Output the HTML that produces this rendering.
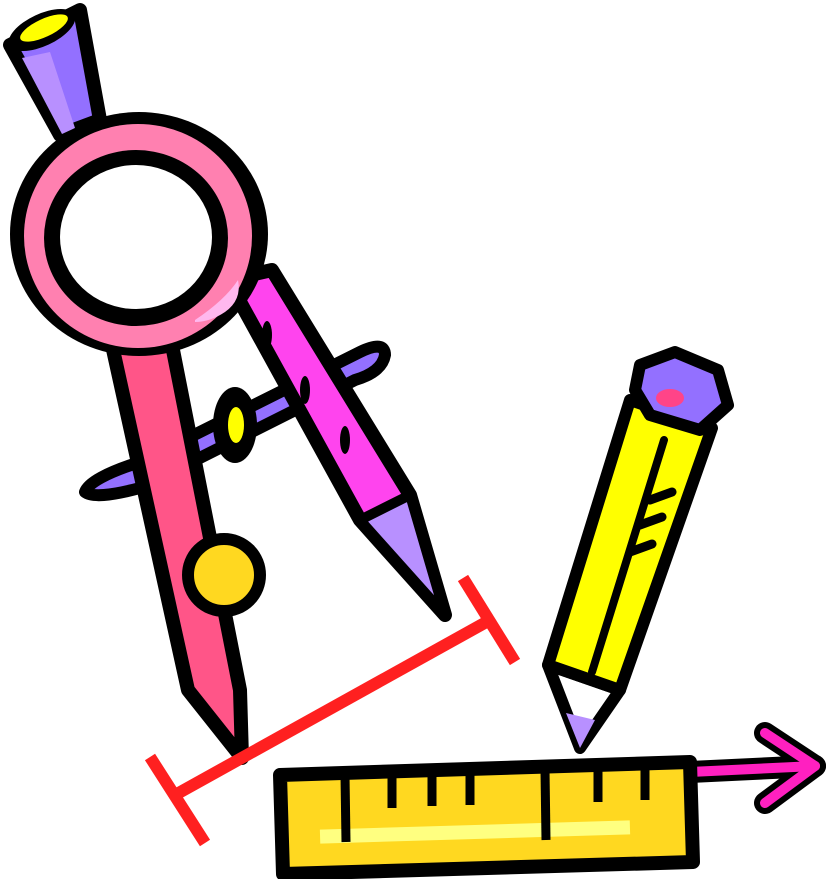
<!DOCTYPE html><html><head><style>html,body{margin:0;padding:0;background:#fff}svg{display:block}</style></head><body>
<svg width="827" height="879" viewBox="0 0 827 879" xmlns="http://www.w3.org/2000/svg" stroke-linejoin="round" stroke-linecap="round">
<!-- crossbar -->
<path d="M85,492 Q90,478 140,462 L360,352 Q385,340 385,355 Q382,372 355,380 L140,488 Q95,500 85,492Z" fill="#9370ff" stroke="#000" stroke-width="12"/>
<!-- right leg -->
<polygon points="228,280 272,270 410,495 445,615 360,520" fill="#ff44ee" stroke="#000" stroke-width="14"/>
<polygon points="360,520 410,495 445,615" fill="#b890ff" stroke="#000" stroke-width="10"/>
<ellipse cx="267" cy="335" rx="5" ry="14" fill="#000"/><ellipse cx="305" cy="390" rx="5" ry="14" fill="#000"/><ellipse cx="345" cy="440" rx="5" ry="14" fill="#000"/>
<!-- yellow oval on bar -->
<ellipse cx="235" cy="425" rx="22" ry="38" fill="#000"/><ellipse cx="236" cy="425" rx="8" ry="18" fill="#ff0"/>
<!-- left leg -->
<polygon points="112,345 172,345 240,690 242,758 188,690" fill="#ff5588" stroke="#000" stroke-width="14"/>
<!-- yellow knob -->
<circle cx="224" cy="575" r="36" fill="#ffd820" stroke="#000" stroke-width="12"/>
<!-- top handle -->
<polygon points="10,45 80,10 100,120 60,135" fill="#9370ff" stroke="#000" stroke-width="14"/>
<polygon points="22,58 50,52 75,128 62,134" fill="#b890ff"/>
<ellipse cx="42" cy="30" rx="36" ry="16" transform="rotate(-25 42 30)" fill="#000"/>
<ellipse cx="44" cy="28" rx="26" ry="9" transform="rotate(-25 44 28)" fill="#ff0"/>
<!-- ring -->
<ellipse cx="139" cy="234" rx="129" ry="122" fill="#000"/>
<ellipse cx="138" cy="236" rx="114" ry="112" fill="#ff80b0"/>
<ellipse cx="136" cy="238" rx="92" ry="88" fill="#000"/>
<ellipse cx="136" cy="237" rx="76" ry="72" fill="#fff"/>
<path d="M195,320 Q225,300 238,280 Q242,300 225,312 Q210,322 195,322Z" fill="#ffb8ee"/>
<!-- red dimension -->
<g stroke="#ff2020" stroke-width="12" stroke-linecap="butt"><line x1="175" y1="795" x2="490" y2="620"/><line x1="150" y1="757" x2="205" y2="843"/><line x1="463" y1="578" x2="515" y2="662"/></g>
<!-- pencil -->
<polygon points="548,665 580,748 620,690" fill="#fff" stroke="#000" stroke-width="12"/>
<polygon points="566,713 580,748 595,720" fill="#b890ff"/>
<polygon points="548,665 630,400 712,428 620,690" fill="#ffff00" stroke="#000" stroke-width="12"/>
<line x1="592" y1="672" x2="664" y2="440" stroke="#000" stroke-width="8"/>
<path d="M650,500 l22,-8 M640,525 l22,-8 M630,552 l22,-8" stroke="#000" stroke-width="9"/>
<polygon points="640,365 675,352 718,370 728,405 700,430 650,415 635,390" fill="#9370ff" stroke="#000" stroke-width="12"/>
<ellipse cx="670" cy="398" rx="14" ry="9" fill="#ff4488"/>
<!-- arrow -->
<g stroke="#000" stroke-width="22"><line x1="690" y1="772" x2="815" y2="766"/><polyline points="765,733 815,766 765,803" fill="none"/></g>
<g stroke="#ff20c0" stroke-width="10"><line x1="690" y1="772" x2="815" y2="766"/><polyline points="765,733 815,766 765,803" fill="none"/></g>
<!-- ruler -->
<polygon points="280,775 690,762 693,862 283,874" fill="#ffd820" stroke="#000" stroke-width="14"/>
<rect x="320" y="825" width="310" height="14" fill="#ffff80" transform="rotate(-1.7 475 832)"/>
<g stroke="#000" stroke-width="9" stroke-linecap="butt"><line x1="345" y1="775" x2="346" y2="842"/><line x1="392" y1="774" x2="392" y2="808"/><line x1="432" y1="773" x2="432" y2="806"/><line x1="470" y1="772" x2="470" y2="805"/><line x1="545" y1="770" x2="546" y2="840"/><line x1="598" y1="768" x2="598" y2="802"/><line x1="645" y1="766" x2="645" y2="800"/></g>
</svg>
</body></html>
